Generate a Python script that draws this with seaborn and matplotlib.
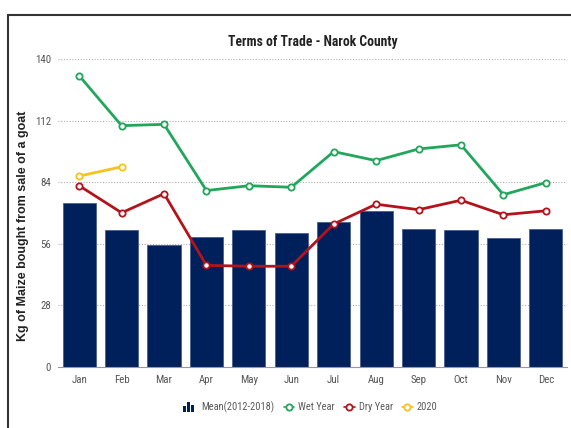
import matplotlib
matplotlib.use("Agg")
import matplotlib.pyplot as plt
import seaborn as sns
import pandas as pd
from matplotlib.lines import Line2D
from matplotlib.patches import Rectangle
from matplotlib.legend_handler import HandlerBase

months = ["Jan", "Feb", "Mar", "Apr", "May", "Jun", "Jul", "Aug", "Sep", "Oct", "Nov", "Dec"]
mean_2012_2018 = [74.7, 62.3, 55.6, 59.0, 62.3, 60.9, 65.9, 70.8, 62.7, 62.1, 58.8, 62.7]
wet_year = [132.4, 109.7, 110.3, 80.2, 82.4, 81.7, 97.9, 93.8, 99.1, 101.0, 78.3, 83.8]
dry_year = [82.4, 70.1, 78.8, 46.2, 45.8, 45.8, 65.0, 74.0, 71.5, 75.8, 69.2, 71.0]
y2020_months = ["Jan", "Feb"]
y2020 = [86.8, 91.0]
yticks = [0, 28, 56, 84, 112, 140]

NAVY = "#00205b"
GREEN = "#21a65b"
RED = "#b3141c"
YELLOW = "#f7c21b"

sns.set_theme(style="white")
plt.rcParams["font.family"] = ["Roboto Condensed", "DejaVu Sans"]

fig = plt.figure(figsize=(5.71, 4.28), dpi=100)
ax = fig.add_axes([58/571, 1-367/428, (567-58)/571, (367-59)/428])

df = pd.DataFrame({"month": months, "mean": mean_2012_2018})
sns.barplot(data=df, x="month", y="mean", order=months, color=NAVY, width=0.78,
            edgecolor="#4a5f8f", linewidth=0.6, saturation=1, ax=ax, zorder=2)

line_kw = dict(marker="o", markersize=4.5, markerfacecolor="white", markeredgewidth=1.3,
               linewidth=2, zorder=4)
sns.lineplot(x=months, y=wet_year, color=GREEN, markeredgecolor=GREEN, ax=ax, sort=False, **line_kw)
sns.lineplot(x=months, y=dry_year, color=RED, markeredgecolor=RED, ax=ax, sort=False, **line_kw)
sns.lineplot(x=y2020_months, y=y2020, color=YELLOW, markeredgecolor=YELLOW, ax=ax, sort=False, **line_kw)

ax.set_xlim(-0.5, len(months) - 0.5)
ax.set_ylim(0, 140)
ax.set_yticks(yticks)
ax.set_yticklabels([str(t) for t in yticks])
ax.set_xlabel("")
ax.set_ylabel("Kg of Maize bought from sale of a goat", fontsize=9, fontweight="bold",
              family=["Liberation Sans", "DejaVu Sans"], color="#222222")
ax.yaxis.set_label_coords((29 - 58) / 509, (367 - 226) / 308)
ax.yaxis.grid(True, linestyle=(0, (1, 1.5)), color="#b0b0b0", linewidth=0.8, zorder=0)
ax.xaxis.grid(False)
for s in ["top", "right", "left"]:
    ax.spines[s].set_visible(False)
ax.spines["bottom"].set_color("#999999")
ax.spines["bottom"].set_linewidth(0.8)
ax.tick_params(axis="both", colors="#555555", labelsize=7.8, length=0)
ax.tick_params(axis="x", pad=6)
ax.tick_params(axis="y", pad=5)
ax.set_axisbelow(True)

fig.text((58 + 567) / 2 / 571, 1 - 42/428, "Terms of Trade - Narok County", ha="center", va="center",
         fontsize=9.8, fontweight="bold", color="#222222")

# frame around figure
fig.patches.append(Rectangle((8/571, -0.1), 1.2, 1.1 - 15/428, transform=fig.transFigure,
                             fill=False, edgecolor="#333333", linewidth=1.5, clip_on=False))


class BarIconHandler(HandlerBase):
    def create_artists(self, legend, orig_handle, xdescent, ydescent, width, height, fontsize, trans):
        arts = []
        bw = 2.0
        heights = [0.6, 1.1, 0.75]
        x0 = -xdescent + width - 3 * (bw + 0.9) - 1
        for i, h in enumerate(heights):
            r = Rectangle((x0 + i * (bw + 0.9), -ydescent - 1), bw, height * h + 1,
                          facecolor=NAVY, edgecolor="none", transform=trans)
            arts.append(r)
        return arts


class BarIcon:
    pass


def line_handle(c):
    return Line2D([], [], color=c, marker="o", markerfacecolor="white", markeredgecolor=c,
                  markersize=4.5, markeredgewidth=1.3, linewidth=1.2)


handles = [BarIcon(), line_handle(GREEN), line_handle(RED), line_handle(YELLOW)]
labels = ["Mean(2012-2018)", "Wet Year", "Dry Year", "2020"]
leg = fig.legend(handles, labels, loc="center", bbox_to_anchor=(312/571, 1 - 407/428), ncol=4,
                 frameon=False, fontsize=7.5, handlelength=1.0, handletextpad=0.4, columnspacing=0.9,
                 handler_map={BarIcon: BarIconHandler()})
for t in leg.get_texts():
    t.set_color("#5a5a5a")

fig.savefig("out.png", dpi=100, facecolor="white")
